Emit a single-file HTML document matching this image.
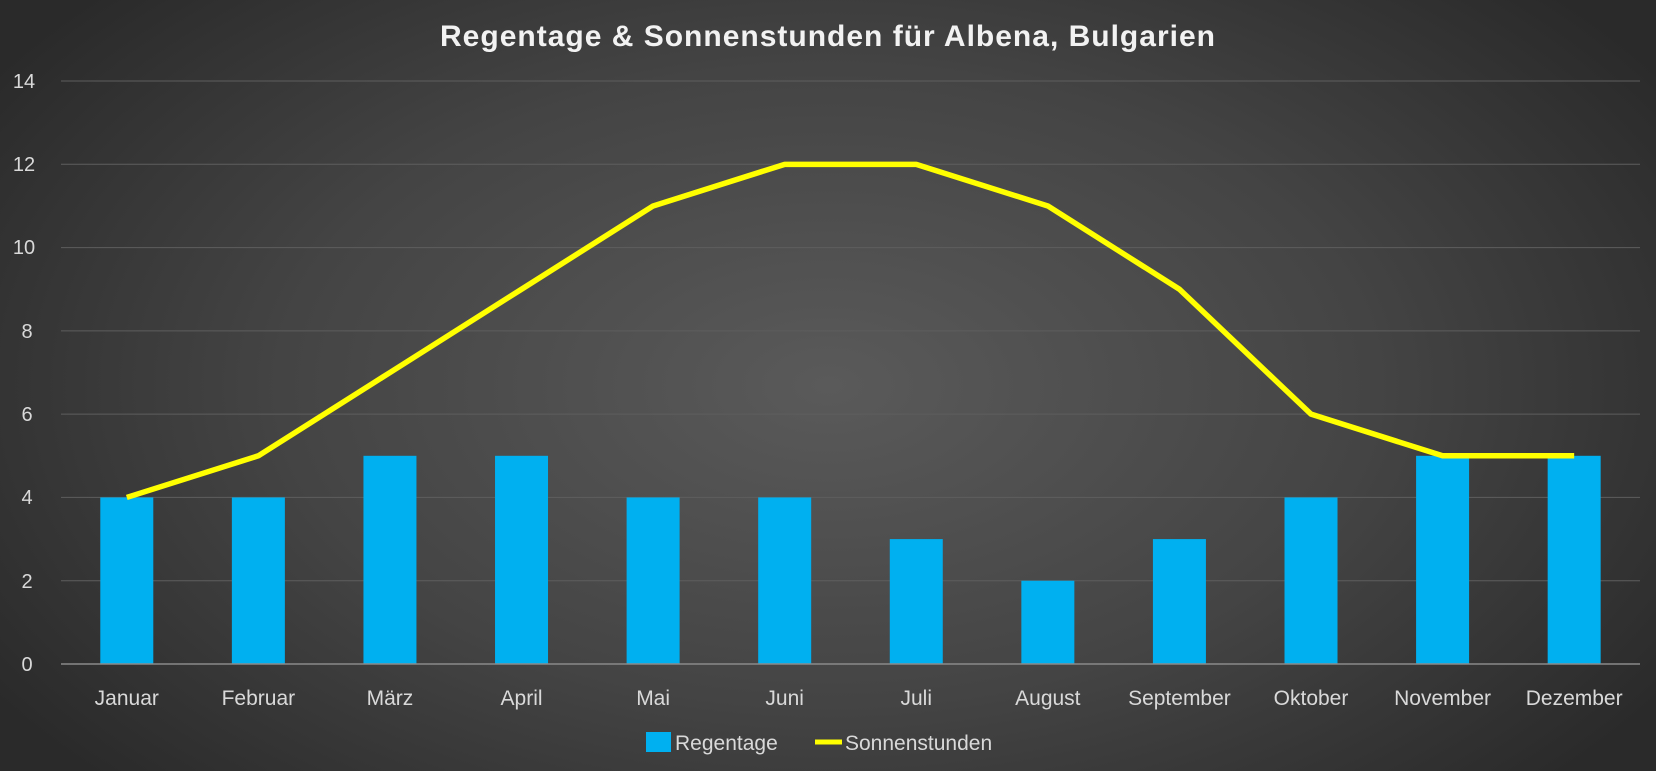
<!DOCTYPE html>
<html><head><meta charset="utf-8"><style>
html,body{margin:0;padding:0;}
body{width:1656px;height:771px;overflow:hidden;background:radial-gradient(ellipse 60% 75% at 50% 50%,#5a5a5a 0%,#444 55%,#2a2a2a 100%);}
svg{position:absolute;left:0;top:0;}
text{font-family:"Liberation Sans",sans-serif;fill:#d9d9d9;}
</style></head><body>
<svg width="1656" height="771" viewBox="0 0 1656 771">
<text x="828" y="46" text-anchor="middle" font-size="30" font-weight="bold" letter-spacing="1" style="fill:#f2f2f2">Regentage &amp; Sonnenstunden für Albena, Bulgarien</text>
<g stroke="#5e5e5e" stroke-width="1">
<line x1="61" x2="1640" y1="81" y2="81"/>
<line x1="61" x2="1640" y1="164.3" y2="164.3"/>
<line x1="61" x2="1640" y1="247.6" y2="247.6"/>
<line x1="61" x2="1640" y1="330.9" y2="330.9"/>
<line x1="61" x2="1640" y1="414.1" y2="414.1"/>
<line x1="61" x2="1640" y1="497.4" y2="497.4"/>
<line x1="61" x2="1640" y1="580.7" y2="580.7"/>
</g>
<g font-size="20" text-anchor="middle">
<text x="24" y="88">14</text><text x="24" y="171">12</text><text x="24" y="254">10</text>
<text x="27" y="338">8</text><text x="27" y="421">6</text><text x="27" y="504">4</text>
<text x="27" y="588">2</text><text x="27" y="671">0</text>
</g>
<g fill="#00b0f0" id="bars"></g>
<line x1="61" x2="1640" y1="664" y2="664" stroke="#8a8a8a" stroke-width="1.5"/>
<polyline id="ln" fill="none" stroke="#ffff00" stroke-width="5.5" stroke-linejoin="round"/>
<g font-size="21" text-anchor="middle" id="lbl"></g>
<rect x="646" y="732" width="25" height="20" fill="#00b0f0"/>
<text x="675" y="750" font-size="21">Regentage</text>
<line x1="815" x2="842" y1="742" y2="742" stroke="#ffff00" stroke-width="5"/>
<text x="845" y="750" font-size="21">Sonnenstunden</text>
</svg>
<script>
var r=[4,4,5,5,4,4,3,2,3,4,5,5],s=[4,5,7,9,11,12,12,11,9,6,5,5],
m=["Januar","Februar","März","April","Mai","Juni","Juli","August","September","Oktober","November","Dezember"];
var ns="http://www.w3.org/2000/svg",b=document.getElementById("bars"),l=document.getElementById("lbl"),pts=[];
function y(v){return 664-v*41.64;}
for(var i=0;i<12;i++){var cx=61+131.58*(i+0.5);
var e=document.createElementNS(ns,"rect");e.setAttribute("x",cx-26.5);e.setAttribute("width",53);e.setAttribute("y",y(r[i]));e.setAttribute("height",664-y(r[i]));e.setAttribute("fill","#00b0f0");b.appendChild(e);
var t=document.createElementNS(ns,"text");t.setAttribute("x",cx);t.setAttribute("y",705);t.textContent=m[i];l.appendChild(t);
pts.push(cx+","+y(s[i]));}
document.getElementById("ln").setAttribute("points",pts.join(" "));
</script>
</body></html>
